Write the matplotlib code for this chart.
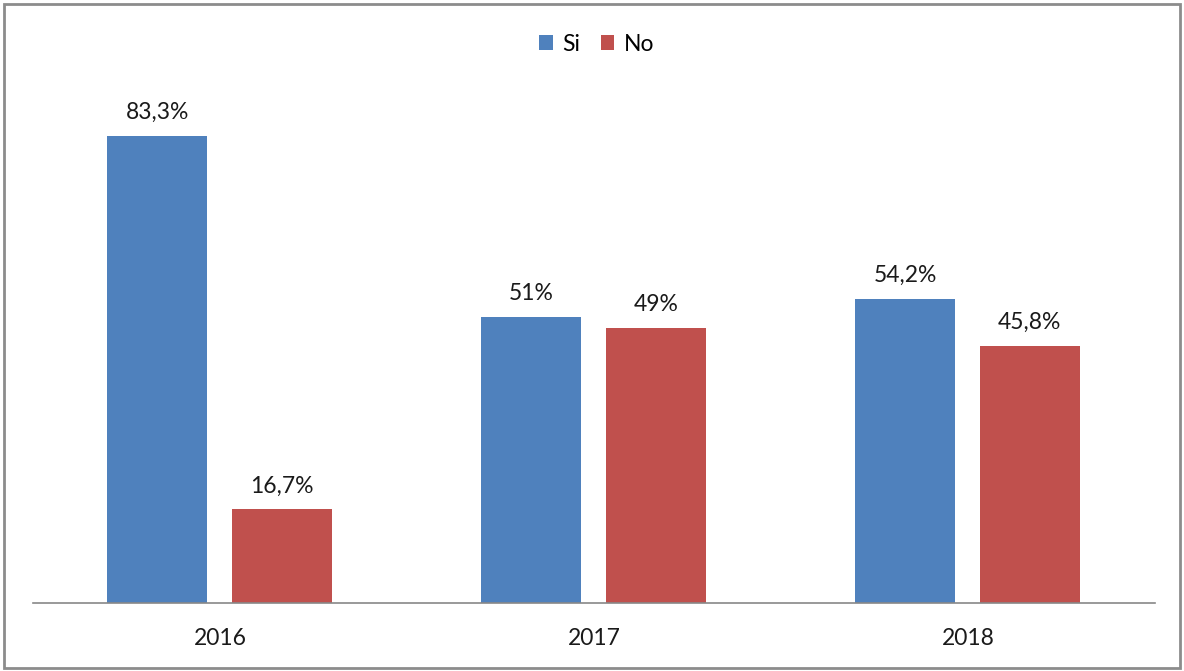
import matplotlib.pyplot as plt
import numpy as np
from matplotlib.patches import Rectangle

plt.rcParams['font.family'] = ['Lato', 'DejaVu Sans']

years = ['2016', '2017', '2018']
si = [83.3, 51, 54.2]
no = [16.7, 49, 45.8]
si_labels = ['83,3%', '51%', '54,2%']
no_labels = ['16,7%', '49%', '45,8%']

blue = '#4F81BD'
red = '#C0504D'

fig = plt.figure(figsize=(11.84, 6.71), dpi=100)
# gray border round the whole chart
fig.patches.append(Rectangle((0.003, 0.004), 0.994, 0.99, transform=fig.transFigure,
                             fill=False, edgecolor='#8c8c8c', linewidth=2))

ax = fig.add_axes([0.0279, 0.1013, 0.9476, 0.7526])
x = np.arange(len(years))
w = 0.267
b1 = ax.bar(x - 0.168, si, w, color=blue, label='Si')
b2 = ax.bar(x + 0.165, no, w, color=red, label='No')

for bars, labs in [(b1, si_labels), (b2, no_labels)]:
    for r, t in zip(bars, labs):
        ax.text(r.get_x() + r.get_width() / 2, r.get_height() + 2.3, t,
                ha='center', va='bottom', fontsize=16.5, color='#1a1a1a')

ax.set_xlim(-0.5, 2.5)
ax.set_ylim(0, 90)
ax.set_xticks(x)
ax.set_xticklabels(years, fontsize=16.5, color='#1a1a1a')
ax.tick_params(axis='x', length=0, pad=18)
ax.set_yticks([])
for s in ['top', 'right', 'left']:
    ax.spines[s].set_visible(False)
ax.spines['bottom'].set_color('#888888')
ax.spines['bottom'].set_linewidth(1.2)

fig.legend(loc='center', bbox_to_anchor=(0.504, 0.934), ncol=2, frameon=False,
           fontsize=16.5, handlelength=0.6, handleheight=0.6, handletextpad=0.4,
           columnspacing=0.9)

fig.savefig('out.png', dpi=100)
